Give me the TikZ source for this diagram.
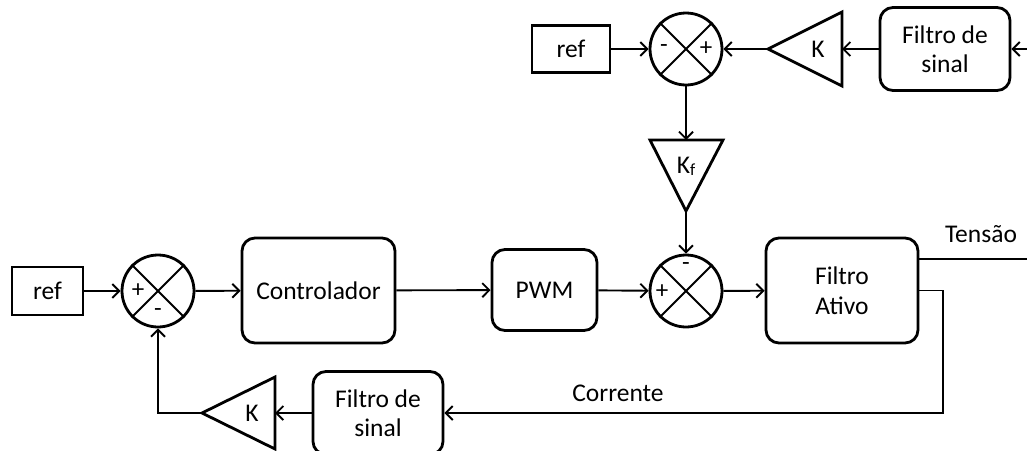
\documentclass[tikz,border=0pt]{standalone}
\usepackage{fontspec}
\setmainfont{Carlito}
\usetikzlibrary{arrows.meta}
\begin{document}
\begin{tikzpicture}[x=1pt,y=-1pt,
  txt/.style={font=\fontsize{25.5}{29.5}\selectfont,inner sep=0pt,align=center},
  blk/.style={txt,draw,line width=2.8pt,rounded corners=13pt},
  refbox/.style={txt,draw,line width=2.8pt},
  sum/.style={draw,circle,line width=2.8pt,minimum size=72pt,inner sep=0pt},
  sgn/.style={font=\fontsize{25}{27}\selectfont,inner sep=0pt},
  tri/.style={line width=2.8pt,line join=miter},
  conn/.style={line width=1.9pt},
  arr/.style={conn,-{Straight Barb[length=7pt,width=14pt,line width=1.9pt]}}
]
\useasboundingbox (0,0) rectangle (1027,450);

% ---- top row ----
\node[refbox,minimum width=78pt,minimum height=47pt] (refT) at (571,49) {ref};
\node[sum] (sumT) at (686,49) {};
\draw[line width=1.9pt] (sumT.north west) -- (sumT.south east) (sumT.north east) -- (sumT.south west);
\node[sgn] (sT1) at (664,49) {-};
\node[sgn] (sT2) at (706,49) {+};
\coordinate (kTtip) at (768,49);
\coordinate (kTbase) at (842,49);
\draw[tri] (842,12) -- (842,86) -- (kTtip) -- cycle;
\node[txt] (kT) at (818,49) {K};
\node[blk,minimum width=130pt,minimum height=83pt] (fsT) at (945,49) {Filtro de\\sinal};
\coordinate (inT) at (1027,49);

% ---- Kf ----
\coordinate (kfTop) at (686,140);
\coordinate (kfTip) at (686,211);
\draw[tri] (650,140) -- (723,140) -- (kfTip) -- cycle;
\node[txt] (kf) at (686,166) {K\raisebox{-2pt}{\fontsize{17}{17}\selectfont f}};

% ---- main row ----
\node[refbox,minimum width=71pt,minimum height=48pt] (refB) at (47.5,291) {ref};
\node[sum] (sumB) at (158,291) {};
\draw[line width=1.9pt] (sumB.north west) -- (sumB.south east) (sumB.north east) -- (sumB.south west);
\node[sgn] (sB1) at (138,291) {+};
\node[sgn] (sB2) at (158,313) {-};
\node[blk,minimum width=153pt,minimum height=105pt] (ctl) at (318.5,290.5) {Controlador};
\node[blk,minimum width=105pt,minimum height=81pt] (pwm) at (544.5,290) {PWM};
\node[sum] (sumM) at (686,291) {};
\draw[line width=1.9pt] (sumM.north west) -- (sumM.south east) (sumM.north east) -- (sumM.south west);
\node[sgn] (sM1) at (686,267) {-};
\node[sgn] (sM2) at (662,292) {+};
\node[blk,minimum width=152pt,minimum height=105pt] (fa) at (842,290.5) {Filtro\\Ativo};
\coordinate (tv) at (1027,259);
\node[txt] (tensao) at (981,234) {Tensão};

% ---- bottom feedback ----
\node[blk,minimum width=130pt,minimum height=83pt] (fsB) at (378,413) {Filtro de\\sinal};
\coordinate (kbTip) at (202,413);
\coordinate (kbBase) at (275,413);
\draw[tri] (275,377) -- (275,449) -- (kbTip) -- cycle;
\node[txt] (kB) at (252,413) {K};
\coordinate (cr) at (943,413);
\node[txt] (corrente) at (618,393) {Corrente};

% ---- connectors ----
\draw[arr] (refT) -- (sumT);
\draw[arr] (kTtip) -- (sumT.east);
\draw[arr] (fsT.west) -- (kTbase);
\draw[arr] (inT) -- (fsT.east);
\draw[arr] (sumT.south) -- (kfTop);
\draw[arr] (kfTip) -- (sumM.north);
\draw[arr] (refB) -- (sumB);
\draw[arr] (sumB) -- (ctl);
\draw[arr] (ctl) -- (pwm);
\draw[arr] (pwm) -- (sumM);
\draw[arr] (sumM) -- (fa);
\draw[conn] (fa.east |- tv) -- (tv);
\draw[arr] (fa.east) -| (cr) -- (fsB.east);
\draw[arr] (fsB.west) -- (kbBase);
\draw[arr] (kbTip) -| (sumB.south);
\end{tikzpicture}
\end{document}
